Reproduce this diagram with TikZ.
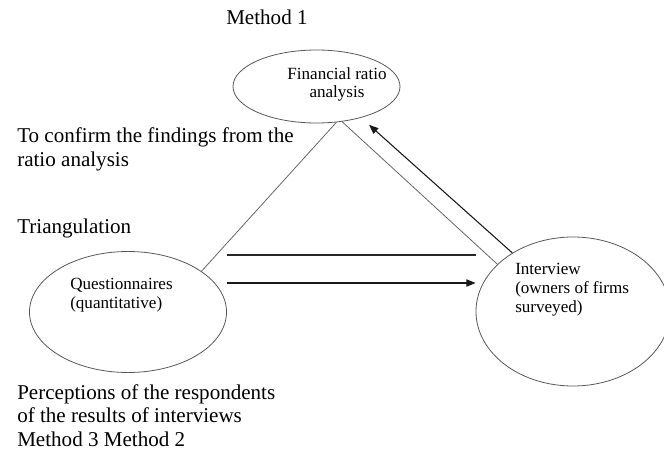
\documentclass[tikz,border=0pt]{standalone}
\usepackage{fontspec}
\setmainfont{Liberation Serif}
\usetikzlibrary{shapes.geometric,arrows.meta}

\tikzset{
	oval/.style={ellipse, draw=black!65, line width=0.6pt, inner sep=0pt},
	outer/.style={anchor=base west, inner sep=0pt, align=left, font=\fontsize{15.8}{17.5}\selectfont},
	inner/.style={anchor=base west, inner sep=0pt, align=left, font=\fontsize{12.8}{14}\selectfont},
	side/.style={draw=black!60, line width=0.6pt},
	hline/.style={draw=black!85, line width=0.8pt},
	arr/.style={-{Triangle[length=7pt,width=5.5pt]}, draw=black!90, line width=0.8pt}
}

\begin{document}
\begin{tikzpicture}[x=0.75pt,y=-0.75pt]
	\useasboundingbox (0,0) rectangle (664,453);

	% ovals
	\node[oval, minimum width=125.25pt, minimum height=54.75pt] (fin) at (316.5,86.5) {};
	\node[oval, minimum width=147.75pt, minimum height=90.75pt] (quest) at (128,312) {};
	\node[oval, minimum width=145.5pt, minimum height=111.75pt] (inter) at (573,311.5) {};

	% texts (multi-line ones sit on their last baseline)
	\node[outer] (m1) at (226,25) {Method 1};
	\node[outer] (confirm) at (17,166) {To confirm the findings from the\\ratio analysis};
	\node[outer] (tri) at (17,233) {Triangulation};
	\node[outer] (percep) at (17,446) {Perceptions of the respondents\\of the results of interviews\\Method 3 Method 2};
	\node[inner, anchor=base, align=center] (finTxt) at (337,98) {Financial ratio\\analysis};
	\node[inner] (questTxt) at (70,308) {Questionnaires\\(quantitative)};
	\node[inner] (interTxt) at (515,312) {Interview\\(owners of firms\\surveyed)};

	% triangle
	\draw[side] (fin.-61) -- (quest.29);
	\draw[side] (fin.-54) -- (inter.148);
	\draw[arr, shorten >=8pt] (inter.136) -- (fin.-35);
	% between questionnaires and interview
	\coordinate (h1) at ([yshift=42.75pt]quest.east);
	\coordinate (h2) at ([yshift=21.75pt]quest.east);
	\draw[hline] (h1) -- (h1 -| inter.west);
	\draw[arr] (h2) -- (h2 -| inter.west);
\end{tikzpicture}
\end{document}
